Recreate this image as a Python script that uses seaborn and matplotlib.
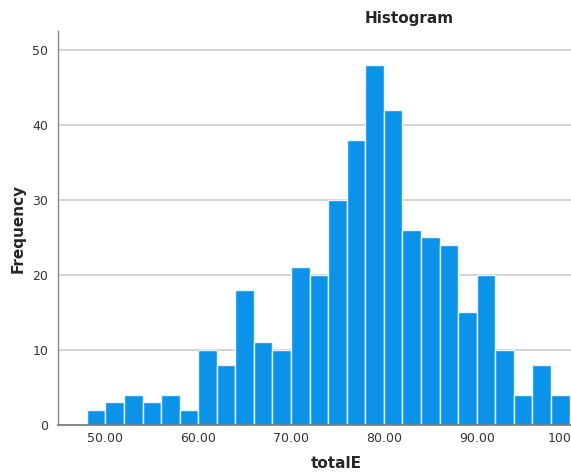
import numpy as np
import pandas as pd
import matplotlib
matplotlib.use('Agg')
import matplotlib.pyplot as plt
import seaborn as sns

# bin centres (width 2, starting at 48) and the count
bin_centers = [49, 51, 53, 55, 57, 59, 61, 63, 65, 67, 69, 71, 73, 75, 77,
               79, 81, 83, 85, 87, 89, 91, 93, 95, 97, 99, 101]
counts = [2, 3, 4, 3, 4, 2, 10, 8, 18, 11, 10, 21, 20, 30, 38,
          48, 42, 26, 25, 24, 15, 20, 10, 4, 8, 4, 1]
x_ticks = [50, 60, 70, 80, 90, 100]
x_ticklabels = ['50.00', '60.00', '70.00', '80.00', '90.00', '100.00']
y_ticks = [0, 10, 20, 30, 40, 50]

df = pd.DataFrame({'totalE': bin_centers, 'count': counts})

sns.set_style('white')
plt.rcParams['font.family'] = ['DejaVu Sans']

fig = plt.figure(figsize=(5.71, 4.74), dpi=100)
ax = fig.add_axes([0.1016, 0.1034, 0.8984, 0.8312])

sns.histplot(data=df, x='totalE', weights='count', binwidth=2, binrange=(48, 102),
             color='#0a93e8', alpha=1, edgecolor='#e8f4fc', linewidth=1, ax=ax)

ax.set_xlim(44.9, 100.15)
ax.set_ylim(0, 52.5)
ax.set_xticks(x_ticks)
ax.set_xticklabels(x_ticklabels)
ax.set_yticks(y_ticks)
ax.yaxis.grid(True, color='#cccccc', linewidth=1.2)
ax.set_axisbelow(True)
ax.tick_params(axis='both', length=0, labelsize=9, labelcolor='#333333')
ax.tick_params(axis='x', pad=5)
ax.tick_params(axis='y', pad=7)

for side in ['top', 'right']:
    ax.spines[side].set_visible(False)
ax.spines['left'].set_color('#888888')
ax.spines['bottom'].set_color('#777777')
ax.spines['left'].set_linewidth(1)
ax.spines['bottom'].set_linewidth(1.2)

ax.set_xlabel('totalE', fontsize=11, fontweight='bold')
ax.set_ylabel('Frequency', fontsize=11, fontweight='bold')
ax.xaxis.set_label_coords((336.7 - 58) / (571 - 58), -0.079)
ax.yaxis.set_label_coords((26 - 58) / (571 - 58), 0.5)
fig.text(409 / 571, 1 - 18 / 474, 'Histogram', ha='center', va='center',
         fontsize=11, fontweight='bold')

fig.savefig('out.png', dpi=100)
